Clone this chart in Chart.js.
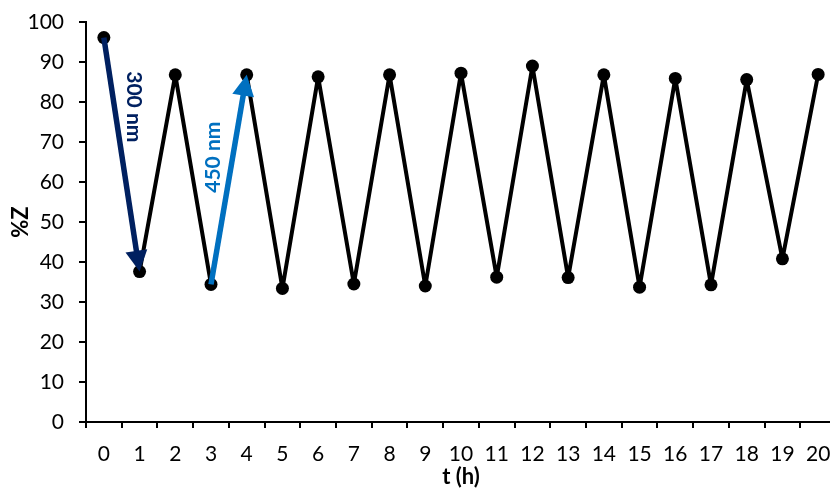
<!DOCTYPE html>
<html>
<head>
<meta charset="utf-8">
<title>%Z vs t (h)</title>
<script src="https://cdn.jsdelivr.net/npm/chart.js@4/dist/chart.umd.min.js"></script>
<style>
  html, body { margin: 0; padding: 0; background: #fff; overflow: hidden; }
  canvas { display: block; }
</style>
</head>
<body>
<canvas id="chart" width="840" height="488"></canvas>
<script>
// --- Data ---
const hours = ['0', '1', '2', '3', '4', '5', '6', '7', '8', '9', '10',
               '11', '12', '13', '14', '15', '16', '17', '18', '19', '20'];
const percentZ = [96.1, 37.6, 86.8, 34.4, 86.8, 33.4, 86.3, 34.5, 86.8, 34.0, 87.2,
                  36.2, 89.0, 36.1, 86.8, 33.7, 85.9, 34.3, 85.6, 40.8, 86.9];
const yTicks = [0, 10, 20, 30, 40, 50, 60, 70, 80, 90, 100];

// Irradiation arrows: from point index -> to point index
const arrowFrom = [0, 3];
const arrowTo = [1, 4];
const arrowColors = ['#002060', '#0070C0'];
const arrowLabels = ['300 nm', '450 nm'];
// label anchor in data units (category position, %Z) and rotation
const labelX = [0.85, 3.05];
const labelY = [78.8, 66.2];
const labelRot = [Math.PI / 2, -Math.PI / 2];

const FONT = 'Lato, "Open Sans", sans-serif';

// --- Arrow + label overlay, positioned through the chart scales ---
const arrowPlugin = {
  id: 'arrows',
  afterDatasetsDraw(chart) {
    const { ctx, scales: { x, y } } = chart;
    ctx.save();
    for (let i = 0; i < arrowFrom.length; i++) {
      const x0 = x.getPixelForValue(arrowFrom[i]);
      const y0 = y.getPixelForValue(percentZ[arrowFrom[i]]);
      const x1 = x.getPixelForValue(arrowTo[i]);
      const y1 = y.getPixelForValue(percentZ[arrowTo[i]]);
      const ang = Math.atan2(y1 - y0, x1 - x0);
      const headLen = 21;
      const headHalf = 11;
      // shaft stops at the base of the head
      const bx = x1 - Math.cos(ang) * headLen;
      const by = y1 - Math.sin(ang) * headLen;

      ctx.strokeStyle = arrowColors[i];
      ctx.fillStyle = arrowColors[i];
      ctx.lineWidth = 5.5;
      ctx.lineCap = 'butt';
      ctx.beginPath();
      ctx.moveTo(x0, y0);
      ctx.lineTo(bx + Math.cos(ang) * 2, by + Math.sin(ang) * 2);
      ctx.stroke();

      ctx.beginPath();
      ctx.moveTo(x1, y1);
      ctx.lineTo(bx - Math.sin(ang) * headHalf, by + Math.cos(ang) * headHalf);
      ctx.lineTo(bx + Math.sin(ang) * headHalf, by - Math.cos(ang) * headHalf);
      ctx.closePath();
      ctx.fill();

      // label
      ctx.save();
      ctx.translate(x.getPixelForValue(labelX[i]), y.getPixelForValue(labelY[i]));
      ctx.rotate(labelRot[i]);
      ctx.font = 'bold 21px ' + FONT;
      ctx.textAlign = 'center';
      ctx.textBaseline = 'middle';
      ctx.fillText(arrowLabels[i], 0, 0);
      ctx.restore();
    }
    ctx.restore();
  }
};

new Chart(document.getElementById('chart'), {
  type: 'line',
  data: {
    labels: hours,
    datasets: [{
      data: percentZ,
      borderColor: '#000',
      backgroundColor: '#000',
      borderWidth: 4,
      borderJoinStyle: 'round',
      pointRadius: 6.5,
      pointBackgroundColor: '#000',
      pointBorderWidth: 0,
      tension: 0,
      clip: false,
    }],
  },
  options: {
    responsive: false,
    animation: false,
    layout: { autoPadding: false, padding: { top: 22, right: 4, left: 0, bottom: 0 } },
    plugins: {
      legend: { display: false },
      tooltip: { enabled: false },
    },
    scales: {
      x: {
        offset: true,
        grid: { offset: true, drawOnChartArea: false, drawTicks: true, tickLength: 6, color: '#000', lineWidth: 2 },
        border: { display: true, color: '#000', width: 2 },
        ticks: { color: '#000', font: { family: FONT, size: 21 }, padding: 14, maxRotation: 0, autoSkip: false },
        title: { display: true, text: 't (h)', color: '#000', font: { family: FONT, size: 22, weight: 'bold', lineHeight: 1 }, padding: { top: 0, bottom: 0 } },
        afterFit(scale) {
          scale.height = 66;
          scale.paddingLeft = 0;
          scale.paddingRight = 0;
        },
      },
      y: {
        min: 0,
        max: 100,
        afterBuildTicks(scale) { scale.ticks = yTicks.map(v => ({ value: v })); },
        grid: { drawOnChartArea: false, drawTicks: true, tickLength: 7, color: '#000', lineWidth: 2 },
        border: { display: true, color: '#000', width: 2 },
        ticks: { color: '#000', font: { family: FONT, size: 21 }, padding: 15 },
        title: { display: true, text: '%Z', color: '#000', font: { family: FONT, size: 22, weight: 'bold', lineHeight: 1 }, padding: { top: 10, bottom: 0 } },
        afterFit(scale) {
          scale.width = 86;
          scale.paddingTop = 0;
          scale.paddingBottom = 0;
        },
      },
    },
  },
  plugins: [arrowPlugin],
});
</script>
</body>
</html>
